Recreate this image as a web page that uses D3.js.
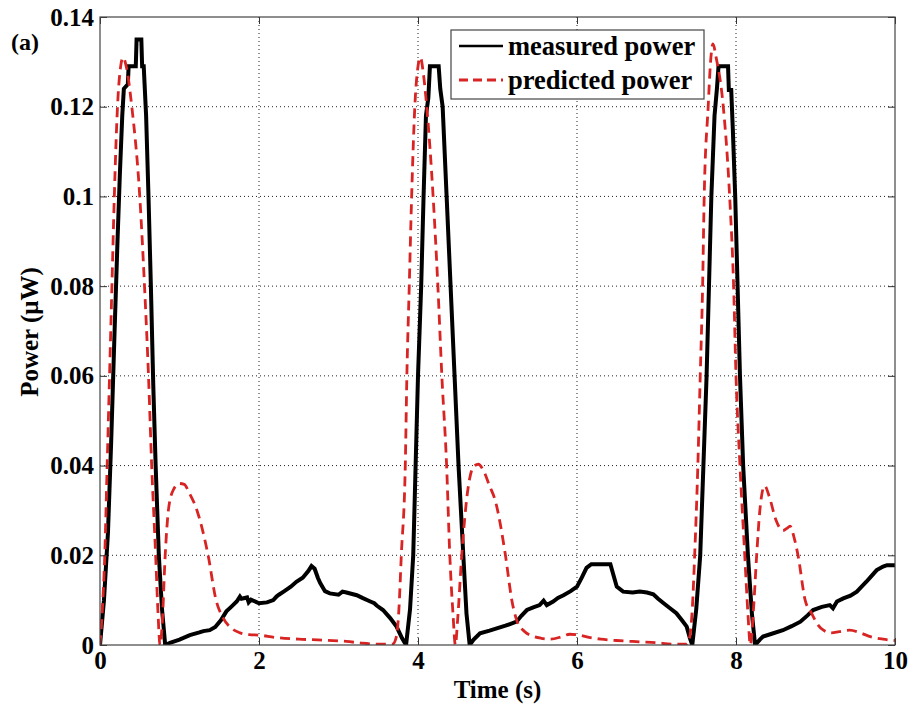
<!DOCTYPE html>
<html>
<head>
<meta charset="utf-8">
<script src="https://cdn.jsdelivr.net/npm/d3@7"></script>
<style>
  html, body { margin: 0; padding: 0; background: #fff; }
  svg { display: block; }
  svg text { font-family: "Liberation Serif", "Times New Roman", "DejaVu Serif", serif !important; font-weight: bold; fill: #000; }
</style>
</head>
<body>
<svg id="chart" width="913" height="712"></svg>
<script>
// ---------------- data ----------------
const xTicks = [0, 2, 4, 6, 8, 10];
const yTicks = [0, 0.02, 0.04, 0.06, 0.08, 0.1, 0.12, 0.14];
const yTickLabels = ["0", "0.02", "0.04", "0.06", "0.08", "0.1", "0.12", "0.14"];
const seriesNames = ["measured power", "predicted power"];

// measured power: time (s)
const measuredT = [
  0, 0.05, 0.10, 0.14, 0.18, 0.22, 0.25, 0.28, 0.30, 0.35, 0.36, 0.45, 0.46, 0.52, 0.53, 0.55, 0.58, 0.61, 0.64, 0.67, 0.70, 0.74, 0.78, 0.82,
  0.88, 1.0, 1.13, 1.25, 1.30, 1.38, 1.45, 1.52, 1.59, 1.65, 1.72, 1.76, 1.78, 1.85, 1.87, 1.9, 2.0, 2.1, 2.18, 2.22, 2.25, 2.31, 2.4, 2.47, 2.55, 2.62, 2.66, 2.7, 2.74, 2.77, 2.83, 2.89, 3.0, 3.05, 3.10, 3.23, 3.3, 3.40, 3.45, 3.48, 3.56, 3.65, 3.73, 3.80, 3.85,
  3.90, 3.94, 3.97, 4.0, 4.04, 4.07, 4.10, 4.13, 4.15, 4.26, 4.28, 4.31, 4.36, 4.41, 4.46, 4.51, 4.57, 4.61, 4.65,
  4.70, 4.78, 4.9, 4.99, 5.1, 5.24, 5.3, 5.37, 5.45, 5.53, 5.58, 5.62, 5.70, 5.76, 5.83, 5.92, 6.0, 6.06, 6.12, 6.18, 6.42, 6.46, 6.5, 6.58, 6.7, 6.79, 6.88, 6.96, 7.02, 7.09, 7.17, 7.25, 7.32, 7.38, 7.42, 7.45,
  7.50, 7.55, 7.59, 7.63, 7.66, 7.69, 7.73, 7.76, 7.78, 7.90, 7.91, 7.94, 7.96, 7.99, 8.02, 8.05, 8.09, 8.15, 8.2, 8.24,
  8.30, 8.34, 8.45, 8.59, 8.7, 8.81, 8.9, 8.97, 9.08, 9.18, 9.22, 9.27, 9.35, 9.44, 9.52, 9.58, 9.64, 9.7, 9.77, 9.85, 9.9, 10
];
// measured power: value (µW)
const measuredP = [
  0, 0.01, 0.025, 0.045, 0.068, 0.09, 0.105, 0.118, 0.124, 0.125, 0.129, 0.129, 0.135, 0.135, 0.129, 0.129, 0.118, 0.1, 0.08, 0.058, 0.04, 0.02, 0.008, 0,
  0.0005, 0.0012, 0.0022, 0.0028, 0.0031, 0.0033, 0.004, 0.0055, 0.0075, 0.0085, 0.0097, 0.0108, 0.0103, 0.0106, 0.0095, 0.0101, 0.0093, 0.0095, 0.0100, 0.0108, 0.0112, 0.0119, 0.013, 0.0141, 0.015, 0.0165, 0.0176, 0.017, 0.015, 0.0138, 0.012, 0.0115, 0.0112, 0.0119, 0.0117, 0.0111, 0.0105, 0.0097, 0.0093, 0.0088, 0.0078, 0.006, 0.0041, 0.0015, 0,
  0.008, 0.02, 0.04, 0.06, 0.08, 0.1, 0.118, 0.122, 0.129, 0.129, 0.124, 0.12, 0.1, 0.08, 0.06, 0.04, 0.02, 0.007, 0,
  0.0012, 0.0026, 0.0032, 0.0037, 0.0043, 0.0052, 0.0065, 0.0078, 0.0084, 0.0089, 0.0099, 0.0089, 0.0097, 0.0105, 0.0111, 0.012, 0.013, 0.015, 0.0172, 0.018, 0.018, 0.0155, 0.013, 0.0119, 0.0117, 0.0119, 0.0117, 0.0113, 0.0103, 0.0093, 0.0082, 0.0071, 0.0055, 0.0041, 0.0015, 0,
  0.008, 0.02, 0.04, 0.06, 0.08, 0.1, 0.118, 0.124, 0.129, 0.129, 0.1237, 0.1237, 0.115, 0.1, 0.08, 0.06, 0.04, 0.02, 0.007, 0,
  0.0012, 0.0019, 0.0025, 0.0033, 0.0042, 0.0052, 0.0066, 0.0078, 0.0085, 0.0089, 0.0082, 0.0097, 0.0104, 0.011, 0.0119, 0.013, 0.0141, 0.0153, 0.0167, 0.0175, 0.0178, 0.0178
];

// predicted power: time (s)
const predictedT = [
  0, 0.03, 0.06, 0.09, 0.12, 0.15, 0.18, 0.22, 0.26, 0.29, 0.33, 0.40, 0.50, 0.56, 0.61, 0.65, 0.70, 0.73, 0.755,
  0.78, 0.82, 0.86, 0.92, 1.0, 1.06, 1.12, 1.22, 1.36, 1.46, 1.55, 1.65, 1.75, 1.88, 2.0, 2.2, 2.5, 2.8, 3.1, 3.3, 3.5, 3.68,
  3.73, 3.76, 3.79, 3.84, 3.86, 3.89, 3.92, 3.96, 4.0, 4.03, 4.07, 4.11, 4.19, 4.25, 4.30, 4.36, 4.40, 4.44, 4.47,
  4.50, 4.55, 4.63, 4.7, 4.76, 4.82, 4.9, 4.97, 5.1, 5.18, 5.24, 5.34, 5.44, 5.55, 5.66, 5.8, 5.91, 6.0, 6.15, 6.3, 6.5, 6.8, 7.0, 7.2, 7.38,
  7.42, 7.45, 7.48, 7.52, 7.55, 7.58, 7.60, 7.65, 7.68, 7.71, 7.75, 7.84, 7.92, 7.97, 8.0, 8.05, 8.11, 8.15, 8.18,
  8.22, 8.26, 8.30, 8.36, 8.42, 8.5, 8.59, 8.64, 8.68, 8.73, 8.78, 8.87, 8.95, 9.03, 9.1, 9.2, 9.3, 9.43, 9.55, 9.7, 9.85, 10
];
// predicted power: value (µW)
const predictedP = [
  0, 0.008, 0.02, 0.04, 0.06, 0.08, 0.1, 0.12, 0.129, 0.131, 0.129, 0.12, 0.1, 0.08, 0.06, 0.04, 0.02, 0.007, 0,
  0.004, 0.02, 0.03, 0.0345, 0.036, 0.0358, 0.034, 0.03, 0.02, 0.01, 0.006, 0.0038, 0.0028, 0.0023, 0.0022, 0.0017, 0.0013, 0.0011, 0.0008, 0.0004, 0.0002, 0.0002,
  0.002, 0.008, 0.02, 0.04, 0.06, 0.08, 0.1, 0.12, 0.129, 0.131, 0.127, 0.12, 0.1, 0.08, 0.06, 0.04, 0.02, 0.007, 0,
  0.006, 0.02, 0.035, 0.0398, 0.0403, 0.039, 0.0355, 0.0323, 0.02, 0.01, 0.0056, 0.003, 0.002, 0.0015, 0.0013, 0.0018, 0.0024, 0.0023, 0.0017, 0.0013, 0.001, 0.0007, 0.0005, 0.0002, 0.0002,
  0.002, 0.008, 0.02, 0.04, 0.06, 0.08, 0.1, 0.12, 0.13, 0.134, 0.131, 0.12, 0.1, 0.08, 0.06, 0.04, 0.02, 0.007, 0,
  0.008, 0.02, 0.03, 0.0355, 0.033, 0.028, 0.0255, 0.026, 0.0265, 0.024, 0.02, 0.01, 0.0071, 0.0045, 0.0033, 0.0027, 0.003, 0.0033, 0.0028, 0.0018, 0.0013, 0.001
];

// ---------------- chart ----------------
const svg = d3.select("#chart");
const L = 100, R = 895, T = 17, B = 645;
const x = d3.scaleLinear().domain([0, 10]).range([L, R]);
const y = d3.scaleLinear().domain([0, 0.14]).range([B, T]);
const red = "#d92424";
const serif = "'Liberation Serif', 'Times New Roman', 'DejaVu Serif', serif";

// grid
const grid = svg.append("g");
grid.selectAll(".gx").data(xTicks.slice(1, -1)).join("line")
  .attr("x1", d => x(d)).attr("x2", d => x(d)).attr("y1", T).attr("y2", B)
  .attr("stroke", "#222").attr("stroke-width", 1).attr("stroke-dasharray", "1,3");
grid.selectAll(".gy").data(yTicks.slice(1, -1)).join("line")
  .attr("x1", L).attr("x2", R).attr("y1", d => y(d)).attr("y2", d => y(d))
  .attr("stroke", "#222").attr("stroke-width", 1).attr("stroke-dasharray", "1,3");

// clip
svg.append("clipPath").attr("id", "clip").append("rect")
  .attr("x", L).attr("y", T - 2).attr("width", R - L).attr("height", B - T + 2);

const measured = measuredT.map((t, i) => [t, measuredP[i]]);
const predicted = predictedT.map((t, i) => [t, predictedP[i]]);

const lineLin = d3.line().x(d => x(d[0])).y(d => y(d[1]));
const lineSmooth = d3.line().x(d => x(d[0])).y(d => y(d[1])).curve(d3.curveMonotoneX);

const plot = svg.append("g").attr("clip-path", "url(#clip)");
plot.append("path").datum(measured).attr("d", lineLin)
  .attr("fill", "none").attr("stroke", "#000").attr("stroke-width", 4).attr("stroke-linejoin", "miter");
plot.append("path").datum(predicted).attr("d", lineSmooth)
  .attr("fill", "none").attr("stroke", red).attr("stroke-width", 2.8).attr("stroke-dasharray", "10,6");

// axes
const tickFont = 25;
const axB = svg.append("g").attr("transform", `translate(0,${B})`)
  .call(d3.axisBottom(x).tickValues(xTicks).tickFormat(d3.format("d")).tickSize(-7).tickPadding(6));
const axL = svg.append("g").attr("transform", `translate(${L},0)`)
  .call(d3.axisLeft(y).tickValues(yTicks).tickFormat((d, i) => yTickLabels[i]).tickSize(-7).tickPadding(6));
const axT = svg.append("g").attr("transform", `translate(0,${T})`)
  .call(d3.axisTop(x).tickValues(xTicks).tickFormat("").tickSize(-7));
const axR = svg.append("g").attr("transform", `translate(${R},0)`)
  .call(d3.axisRight(y).tickValues(yTicks).tickFormat("").tickSize(-7));
[axB, axL, axT, axR].forEach(a => {
  a.attr("font-family", serif);
  a.select(".domain").remove();
  a.selectAll("line").attr("stroke", "#333");
  a.selectAll("text").attr("font-size", tickFont).style("font-family", serif)
    .attr("font-weight", "bold").attr("fill", "#000");
});

// frame
svg.append("rect").attr("x", L).attr("y", T).attr("width", R - L).attr("height", B - T)
  .attr("fill", "none").attr("stroke", "#444").attr("stroke-width", 1.2);

// axis labels
svg.append("text").attr("x", (L + R) / 2).attr("y", 698).attr("text-anchor", "middle")
  .style("font-family", serif).attr("font-size", 25).text("Time (s)");
svg.append("text").attr("transform", "translate(38,332) rotate(-90)").attr("text-anchor", "middle")
  .style("font-family", serif).attr("font-size", 25).text("Power (\u03BCW)");
svg.append("text").attr("x", 11).attr("y", 50).style("font-family", serif).attr("font-size", 24).text("(a)");

// legend
const lg = svg.append("g");
lg.append("rect").attr("x", 451).attr("y", 30).attr("width", 253).attr("height", 69)
  .attr("fill", "#fff").attr("stroke", "#444").attr("stroke-width", 1.2);
const legendItems = [
  { name: seriesNames[0], color: "#000", dash: null, w: 2.5, yy: 46 },
  { name: seriesNames[1], color: red, dash: "9,5", w: 2.8, yy: 80 }
];
legendItems.forEach(it => {
  lg.append("line").attr("x1", 459).attr("x2", 503).attr("y1", it.yy).attr("y2", it.yy)
    .attr("stroke", it.color).attr("stroke-width", it.w).attr("stroke-dasharray", it.dash);
  lg.append("text").attr("x", 508).attr("y", it.yy).attr("dy", "0.33em")
    .style("font-family", serif).attr("font-size", 26.5).text(it.name);
});
</script>
</body>
</html>
